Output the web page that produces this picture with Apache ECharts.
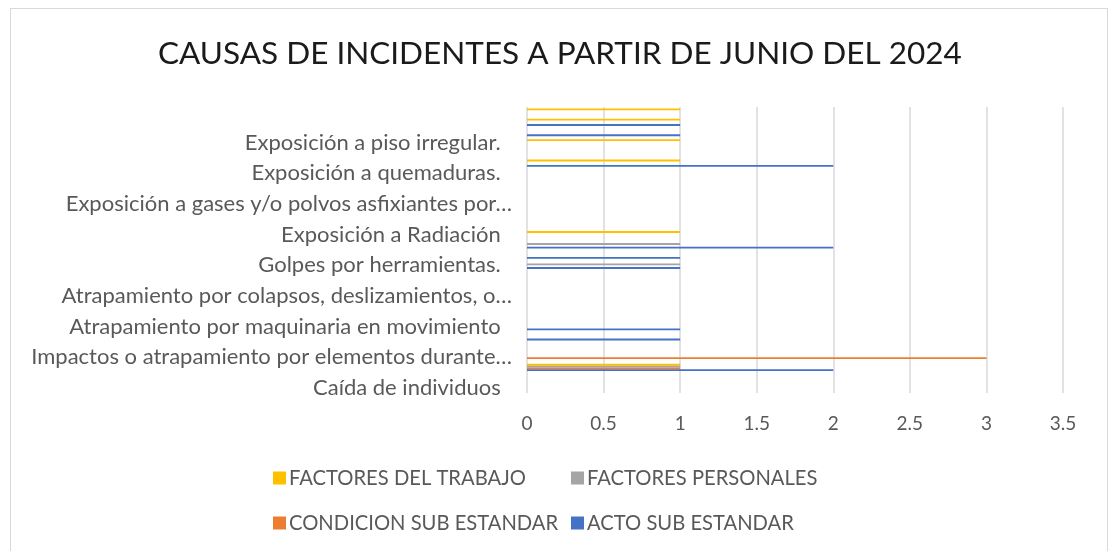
<!DOCTYPE html>
<html>
<head>
<meta charset="utf-8">
<script src="https://cdn.jsdelivr.net/npm/echarts@6/dist/echarts.min.js"></script>
<style>
  html, body { margin: 0; padding: 0; background: #fff; overflow: hidden; }
  #frame { position: absolute; left: 10px; top: 8px; width: 1096px; height: 600px; border: 1px solid #d9d9d9; }
  #myChart { position: absolute; left: 0; top: 0; width: 1109px; height: 551px; }
</style>
</head>
<body>
<div id="frame"></div>
<div id="myChart"></div>
<script>
// categorias de abajo hacia arriba (solo una de cada tres lleva texto visible)
var categories = [
  "Caída de individuos  ", "", "",
  "Impactos o atrapamiento por elementos durante…", "", "",
  "Atrapamiento por maquinaria en movimiento  ", "", "",
  "Atrapamiento por colapsos, deslizamientos, o…", "", "",
  "Golpes por herramientas.  ", "", "",
  "Exposición a Radiación  ", "", "",
  "Exposición a gases y/o polvos asfixiantes por…", "", "",
  "Exposición a quemaduras.  ", "", "",
  "Exposición a piso irregular.  ", "", "", ""
];
var actoSub      = [0,0,2,0,0,1,1,0,0,0,0,0,1,1,2,0,0,0,0,0,0,0,2,0,0,1,1,0];
var condicionSub = [0,0,1,3,0,0,0,0,0,0,0,0,0,0,0,0,0,0,0,0,0,0,0,0,0,0,0,0];
var factPersonal = [0,0,1,0,0,0,0,0,0,0,0,0,1,0,1,0,0,0,0,0,0,0,0,0,0,0,0,0];
var factTrabajo  = [0,0,1,0,0,0,0,0,0,0,0,0,0,0,0,1,0,0,0,0,0,0,1,0,1,0,1,1];
var xTicks = [0, 0.5, 1, 1.5, 2, 2.5, 3, 3.5];

var font = "Lato";
var txt = "#595959";

function barSerie(name, data, color) {
  return {
    name: name,
    type: "bar",
    data: data,
    barWidth: 1.8,
    barGap: "0%",
    itemStyle: { color: color },
    silent: true
  };
}

var chart = echarts.init(document.getElementById("myChart"));
chart.setOption({
  animation: false,
  textStyle: { fontFamily: font },
  title: {
    text: "CAUSAS DE INCIDENTES A PARTIR DE JUNIO DEL 2024",
    left: 153,
    top: 33,
    textStyle: { fontFamily: font, fontSize: 31.5, fontWeight: "normal", color: "#1a1a1a" }
  },
  legend: [
    {
      orient: "vertical",
      left: 268, top: 463,
      itemGap: 25,
      itemWidth: 13, itemHeight: 13,
      icon: "rect",
      data: ["FACTORES DEL TRABAJO", "CONDICION SUB ESTANDAR"],
      textStyle: { fontFamily: font, fontSize: 20.2, color: txt, padding: [0, 0, 0, -2] }
    },
    {
      orient: "vertical",
      left: 566, top: 463,
      itemGap: 25,
      itemWidth: 13, itemHeight: 13,
      icon: "rect",
      data: ["FACTORES PERSONALES", "ACTO SUB ESTANDAR"],
      textStyle: { fontFamily: font, fontSize: 20.2, color: txt, padding: [0, 0, 0, -2] }
    }
  ],
  grid: { left: 527, right: 46, top: 107, bottom: 158, containLabel: false },
  xAxis: {
    type: "value",
    min: 0, max: 3.5, interval: 0.5,
    axisLine: { show: false },
    axisTick: { show: false },
    splitLine: { lineStyle: { color: "#d9d9d9", width: 1.5 } },
    axisLabel: {
      fontFamily: font, fontSize: 19, color: txt, margin: 21,
      formatter: function (v) { return xTicks.indexOf(v) >= 0 ? String(v) : ""; }
    }
  },
  yAxis: {
    type: "category",
    data: categories,
    axisLine: { show: false },
    axisTick: { show: false },
    axisLabel: { interval: 0, fontFamily: font, fontSize: 22, color: txt, margin: 15 }
  },
  series: [
    barSerie("FACTORES DEL TRABAJO", factTrabajo, "#FFC000"),
    barSerie("FACTORES PERSONALES", factPersonal, "#A5A5A5"),
    barSerie("CONDICION SUB ESTANDAR", condicionSub, "#ED7D31"),
    barSerie("ACTO SUB ESTANDAR", actoSub, "#4472C4")
  ]
});
</script>
</body>
</html>
